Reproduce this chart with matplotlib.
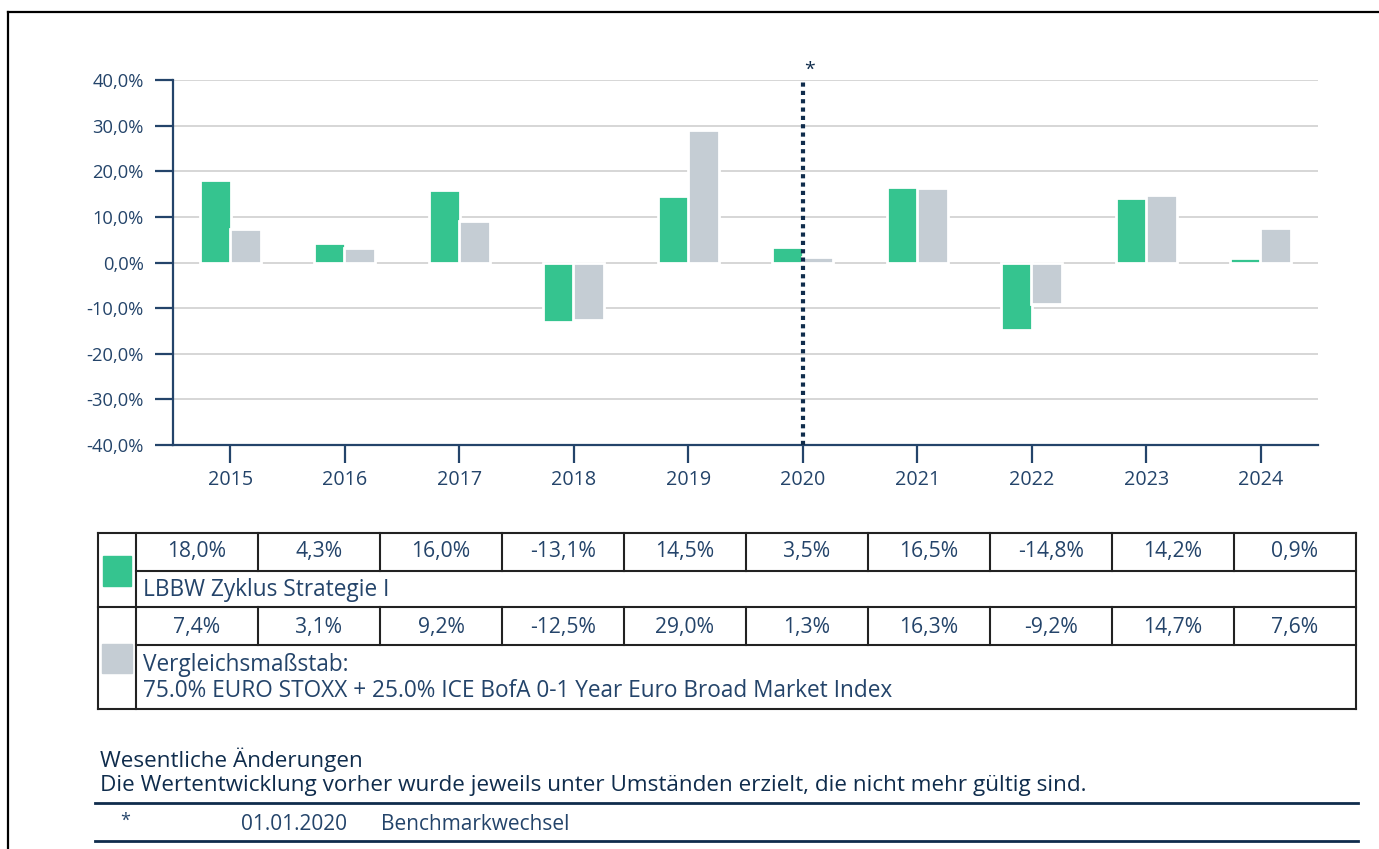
"""
Wertentwicklung LBBW Zyklus Strategie I vs Vergleichsmassstab, Balken + Tabelle.
"""

import matplotlib
matplotlib.use("Agg")
import matplotlib.pyplot as plt
from matplotlib.ticker import FuncFormatter, MultipleLocator

years = ["2015", "2016", "2017", "2018", "2019", "2020", "2021", "2022", "2023", "2024"]
fonds = [18.0, 4.3, 16.0, -13.1, 14.5, 3.5, 16.5, -14.8, 14.2, 0.9]
bench = [7.4, 3.1, 9.2, -12.5, 29.0, 1.3, 16.3, -9.2, 14.7, 7.6]
fonds_name = "LBBW Zyklus Strategie I"
bench_name = ["Vergleichsmaßstab:",
              "75.0% EURO STOXX + 25.0% ICE BofA 0-1 Year Euro Broad Market Index"]
change_year = "2020"
changes = [("*", "01.01.2020", "Benchmarkwechsel")]

GREEN = "#35c48f"
GREY = "#c5cdd4"
NAVY = "#24446a"
DARK = "#0f2c4c"
W, H = 1379, 849

plt.rcParams["font.family"] = ["Open Sans", "DejaVu Sans"]


def pct(v):
    return f"{v:.1f}%".replace(".", ",")


fig = plt.figure(figsize=(W / 100, H / 100), dpi=100)

# seite (pixelkoordinaten) fuer rahmen, tabelle, fussnote
page = fig.add_axes([0, 0, 1, 1])
page.set_xlim(0, W)
page.set_ylim(H, 0)
page.axis("off")

# chart
ax = fig.add_axes([173 / W, 1 - 445 / H, 1145 / W, 365 / H])
ax.set_facecolor("none")
x = list(range(len(years)))
ax.bar([i - 0.13 for i in x], fonds, width=0.27, color=GREEN,
       edgecolor="white", linewidth=2, zorder=3)
ax.bar([i + 0.13 for i in x], bench, width=0.27, color=GREY,
       edgecolor="white", linewidth=2, zorder=3)
ax.set_xlim(-0.5, len(years) - 0.5)
ax.set_ylim(-40, 40)
ax.yaxis.set_major_locator(MultipleLocator(10))
ax.yaxis.set_major_formatter(FuncFormatter(lambda v, p: pct(v)))
ax.set_xticks(x)
ax.set_xticklabels(years)
ax.grid(axis="y", color="#d3d3d3", linewidth=1.3, zorder=1)
ax.set_axisbelow(True)
for s in ["top", "right"]:
    ax.spines[s].set_visible(False)
for s in ["left", "bottom"]:
    ax.spines[s].set_color(NAVY)
    ax.spines[s].set_linewidth(1.6)
ax.tick_params(axis="y", length=13, width=1.6, color=NAVY, labelcolor=NAVY,
               labelsize=13.2, pad=8)
ax.tick_params(axis="x", length=13, width=1.6, color=NAVY, labelcolor=NAVY,
               labelsize=14.2, pad=5)

ci = years.index(change_year)
ax.axvline(ci, color=DARK, linewidth=3, linestyle=(0, (1, 1)), zorder=4)
ax.text(ci + 0.06, 42.2, "*", ha="center", va="center", fontsize=14,
        color=DARK, clip_on=False)

# rahmen
page.plot([8, 8], [12, H], color="black", linewidth=1.6)
page.plot([8, W], [12, 12], color="black", linewidth=1.6)

# tabelle
tl, c0, tr = 98, 136, 1356
cw = (tr - c0) / len(years)
rows = [533, 571, 607, 645, 709]
lc = "#222222"
lw = 1.5
page.plot([tl, tr], [rows[0], rows[0]], color=lc, lw=lw)
page.plot([tl, tr], [rows[2], rows[2]], color=lc, lw=lw)
page.plot([tl, tr], [rows[4], rows[4]], color=lc, lw=lw)
page.plot([c0, tr], [rows[1], rows[1]], color=lc, lw=lw)
page.plot([c0, tr], [rows[3], rows[3]], color=lc, lw=lw)
for xx in [tl, c0, tr]:
    page.plot([xx, xx], [rows[0], rows[4]], color=lc, lw=lw)
for k in range(1, len(years)):
    xx = c0 + k * cw
    page.plot([xx, xx], [rows[0], rows[1]], color=lc, lw=lw)
    page.plot([xx, xx], [rows[2], rows[3]], color=lc, lw=lw)

for k, (a, b) in enumerate(zip(fonds, bench)):
    cx = c0 + (k + 0.5) * cw
    page.text(cx, 552, pct(a), ha="center", va="center", fontsize=15.2, color=NAVY)
    page.text(cx, 627, pct(b), ha="center", va="center", fontsize=15.2, color=NAVY)

page.add_patch(plt.Rectangle((103, 556), 28, 30, color=GREEN))
page.add_patch(plt.Rectangle((102, 644), 30, 29, color=GREY))
page.text(143, 590, fonds_name, ha="left", va="center", fontsize=16.3, color=NAVY)
page.text(143, 665, bench_name[0], ha="left", va="center", fontsize=16.3, color=NAVY)
page.text(143, 691, bench_name[1], ha="left", va="center", fontsize=16.3, color=NAVY)

# wesentliche aenderungen
page.text(100, 760, "Wesentliche Änderungen", ha="left", va="center",
          fontsize=16.2, color=DARK)
page.text(100, 786, "Die Wertentwicklung vorher wurde jeweils unter Umständen "
          "erzielt, die nicht mehr gültig sind.", ha="left", va="center",
          fontsize=16.2, color=DARK)
page.plot([95, 1358], [803, 803], color=DARK, linewidth=2)
for star, date, what in changes:
    page.text(125, 821, star, ha="center", va="center", fontsize=13, color=NAVY)
    page.text(241, 825, date, ha="left", va="center", fontsize=15, color=NAVY)
    page.text(381, 825, what, ha="left", va="center", fontsize=15, color=NAVY)
page.plot([95, 1358], [841, 841], color=DARK, linewidth=2)

fig.savefig("out.png", dpi=100)
